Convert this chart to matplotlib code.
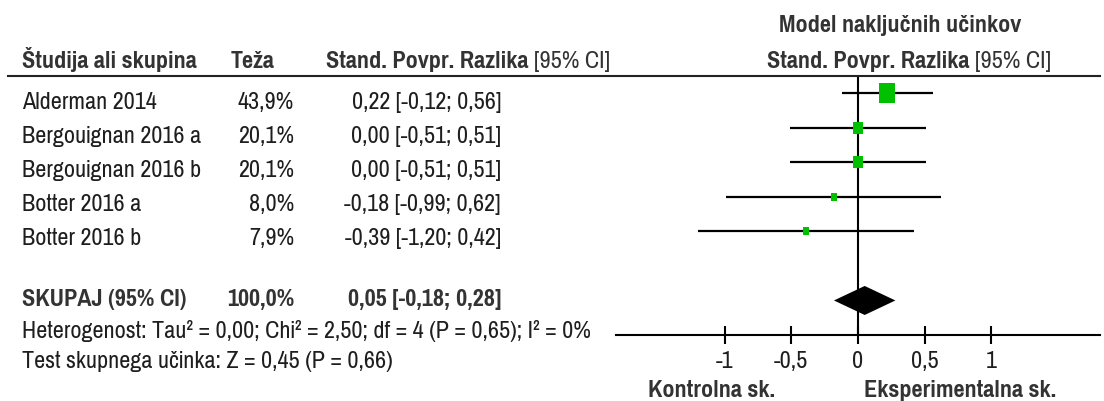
import matplotlib
matplotlib.use("Agg")
import matplotlib.pyplot as plt
from matplotlib.lines import Line2D

# --- data -------------------------------------------------------------
studies = ["Alderman 2014", "Bergouignan 2016 a", "Bergouignan 2016 b",
           "Botter 2016 a", "Botter 2016 b"]
weights = [43.9, 20.1, 20.1, 8.0, 7.9]
smd = [0.22, 0.00, 0.00, -0.18, -0.39]
ci_low = [-0.12, -0.51, -0.51, -0.99, -1.20]
ci_high = [0.56, 0.51, 0.51, 0.62, 0.42]

pooled_smd = 0.05
pooled_low = -0.18
pooled_high = 0.28
pooled_weight = 100.0

axis_ticks = [-1, -0.5, 0, 0.5, 1]
heterogeneity = "Heterogenost: Tau² = 0,00; Chi² = 2,50; df = 4 (P = 0,65); I² = 0%"
overall_test = "Test skupnega učinka: Z = 0,45 (P = 0,66)"


def fmt(v):
    return f"{v:.2f}".replace(".", ",")


def fmt_pct(v):
    return f"{v:.1f}%".replace(".", ",")


def fmt_tick(v):
    return f"{v:g}".replace(".", ",")


# --- fonts ------------------------------------------------------------
plt.rcParams["font.family"] = ["Pragati Narrow", "Roboto Condensed", "Liberation Sans", "DejaVu Sans"]

W, H = 1104, 401
fig = plt.figure(figsize=(W / 100, H / 100), dpi=100)
renderer = fig.canvas.get_renderer()

REG = "#1e1e1e"
BLD = "#333333"


def fx(px):
    return px / W


def fy(py):
    return 1 - py / H


def width_px(t):
    return t.get_window_extent(renderer).width


# size the text so the heterogeneity line spans its column
probe = fig.text(0, 0, heterogeneity, fontsize=10)
FS = 10 * 570 / width_px(probe)
probe.remove()


def put(x, y, s, ha="left", bold=False, size=None):
    return fig.text(fx(x), fy(y), s, ha=ha, va="baseline",
                    fontsize=size or FS,
                    fontweight="bold" if bold else "normal",
                    color=BLD if bold else REG)


def header(x, y, bold_part, reg_part, center=False):
    b = fig.text(0, 0, bold_part, fontsize=FS, fontweight="bold", color=BLD, va="baseline")
    r = fig.text(0, 0, reg_part, fontsize=FS, color=BLD, va="baseline")
    wb, wr = width_px(b), width_px(r)
    x0 = x - (wb + wr) / 2 if center else x
    b.set_position((fx(x0), fy(y)))
    r.set_position((fx(x0 + wb), fy(y)))


# --- forest panel -----------------------------------------------------
ax = fig.add_axes([fx(616), fy(335), fx(1100) - fx(616), fy(76) - fy(335)])
ax.set_xlim(-1.813, 1.813)
ax.set_ylim(8, 0.5)
for side in ("top", "left", "right"):
    ax.spines[side].set_visible(False)
ax.spines["bottom"].set_linewidth(1.5)
ax.spines["bottom"].set_color("black")
ax.set_yticks([])
ax.set_xticks(axis_ticks)
ax.set_xticklabels([fmt_tick(t) for t in axis_ticks])
ax.tick_params(axis="x", direction="inout", length=13, width=1.5,
               pad=5, labelsize=FS, labelcolor=REG)
ax.patch.set_alpha(0)

rows = list(range(1, len(studies) + 1))
ax.axvline(0, color="black", lw=1.5, zorder=1)
ax.hlines(rows, ci_low, ci_high, color="black", lw=1.6, zorder=2)

box = [(-0.79, -1), (0.79, -1), (0.79, 1), (-0.79, 1), (-0.79, -1)]
for r, m, w in zip(rows, smd, weights):
    ax.plot([m], [r], marker=box, markersize=2.07 * w ** 0.5,
            color="#00c000", markeredgewidth=0, linestyle="none", zorder=3)

pool_row = len(studies) + 2
dh = 0.42
ax.fill([pooled_low, pooled_smd, pooled_high, pooled_smd],
        [pool_row, pool_row - dh, pool_row, pool_row + dh],
        color="black", lw=0, zorder=3)

# --- header rule ------------------------------------------------------
fig.add_artist(Line2D([fx(8), fx(1100)], [fy(76), fy(76)], lw=1.5, color="#222222"))

# --- column headers ---------------------------------------------------
put(22, 68, "Študija ali skupina", bold=True)
put(231, 68, "Teža", bold=True)
header(326, 68, "Stand. Povpr. Razlika ", "[95% CI]")
put(900, 32, "Model naključnih učinkov", ha="center", bold=True)
header(909, 68, "Stand. Povpr. Razlika ", "[95% CI]", center=True)

# --- study rows -------------------------------------------------------
for i, (name, w, m, lo, hi) in enumerate(zip(studies, weights, smd, ci_low, ci_high)):
    yb = 108.5 + 34.2 * i
    put(22, yb, name)
    put(294, yb, fmt_pct(w), ha="right")
    put(501, yb, f"{fmt(m)} [{fmt(lo)}; {fmt(hi)}]", ha="right")

# --- pooled row and tests --------------------------------------------
put(22, 306, "SKUPAJ (95% CI)", bold=True)
put(294, 306, fmt_pct(pooled_weight), ha="right", bold=True)
put(501, 306, f"{fmt(pooled_smd)} [{fmt(pooled_low)}; {fmt(pooled_high)}]",
    ha="right", bold=True)
put(22, 338, heterogeneity)
put(22, 368, overall_test)

# --- direction labels -------------------------------------------------
put(712, 397, "Kontrolna sk.", ha="center", bold=True)
put(960, 397, "Eksperimentalna sk.", ha="center", bold=True)

fig.savefig("out.png", dpi=100, facecolor="white")
